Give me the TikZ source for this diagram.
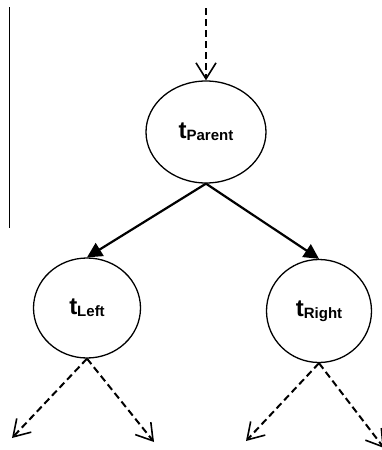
\documentclass[tikz,border=0pt]{standalone}
\usepackage{fontspec}
\setmainfont{Liberation Sans}
\usetikzlibrary{positioning,arrows.meta,shapes.geometric}
\tikzset{
	tree/.style={x=1pt,y=-1pt,line width=1.4pt},
	split/.style={ellipse,draw,line width=1.3pt,inner sep=0pt},
	branch/.style={-{Triangle[length=15pt,width=15pt]},line width=2.2pt},
	hidden/.style={-{Straight Barb[length=16pt,width=20pt,line width=1.6pt]},dash pattern=on 7pt off 4pt,line width=2pt}
}
\newcommand{\tlabel}[1]{\fontsize{24}{24}\selectfont\textbf{t}\raisebox{-2pt}{\fontsize{15}{15}\selectfont\textbf{#1}}}

\begin{document}
\begin{tikzpicture}[tree]
	\useasboundingbox (0,0) rectangle (381,450);
	
	\node[split, minimum width=120pt, minimum height=102pt] (p) at (206,132) {\tlabel{Parent}};
	\node[split, minimum width=107pt, minimum height=100pt] (l) at (87,308) {\tlabel{Left}};
	\node[split, minimum width=105pt, minimum height=103pt] (r) at (319,311) {\tlabel{Right}};
	
	\coordinate (in) at (206,8);
	\coordinate (ll) at (12,438);
	\coordinate (lr) at (154,442);
	\coordinate (rl) at (246,441);
	\coordinate (rr) at (384,448);
	\coordinate (bar top) at (9,7);
	\coordinate (bar bottom) at (9,228);
	
	\draw[line width=0.8pt] (bar top) -- (bar bottom);
	
	\path[hidden] (in) edge (p.north);
	\path[branch] (p.south) edge (l.north);
	\path[branch] (p.south) edge (r.north);
	\path[hidden] (l.south) edge (ll);
	\path[hidden] (l.south) edge (lr);
	\path[hidden] (r.south) edge (rl);
	\path[hidden] (r.south) edge (rr);
\end{tikzpicture}
\end{document}
